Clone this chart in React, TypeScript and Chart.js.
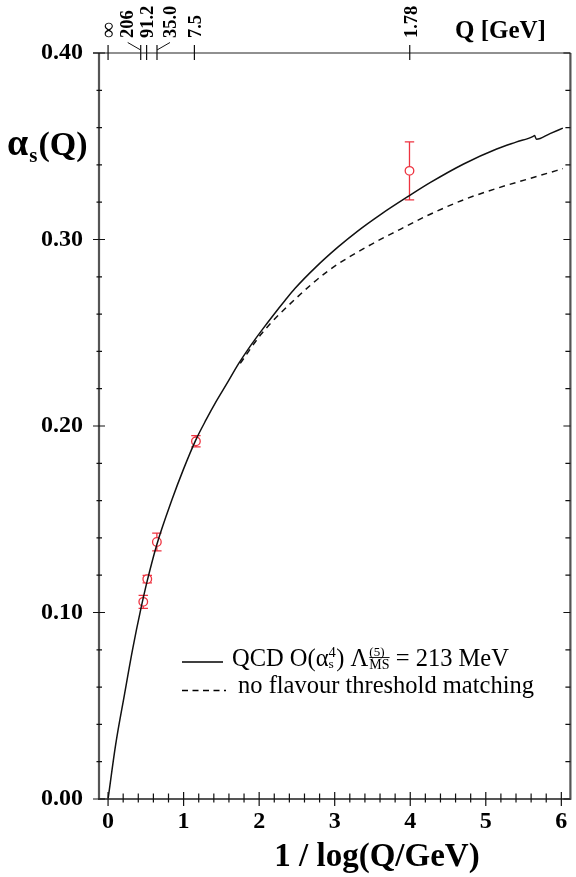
import React, { useEffect, useRef } from 'react';
import { Chart, registerables } from 'chart.js';

Chart.register(...registerables);

// ---- data ----
const xTicks = [0, 1, 2, 3, 4, 5, 6];
const yTicks = [0, 0.1, 0.2, 0.3, 0.4];
const topQLabels = ['∞', '206', '91.2', '35.0', '7.5', '1.78'];
const topQValues = [Infinity, 206, 91.2, 35.0, 7.5, 1.78];

const solidX = [0, 0.1, 0.217, 0.326, 0.436, 0.52, 0.646, 0.844, 1.0, 1.159, 1.3, 1.422, 1.58, 1.728, 1.88, 2.034, 2.2, 2.342, 2.473, 2.75, 3.042, 3.3, 3.611, 3.984, 4.268, 4.707, 5.144, 5.4, 5.627, 5.645, 5.67, 5.85, 6.02];
const solidY = [0, 0.029, 0.056, 0.0805, 0.1023, 0.1172, 0.1365, 0.1603, 0.177, 0.1923, 0.2035, 0.2125, 0.2232, 0.2334, 0.2427, 0.2513, 0.2601, 0.2673, 0.2737, 0.2852, 0.2959, 0.3044, 0.3135, 0.3234, 0.3306, 0.3405, 0.3485, 0.3522, 0.3553, 0.3558, 0.3537, 0.3568, 0.3597];

const dashedX = [1.75, 2.034, 2.473, 2.911, 3.436, 3.874, 4.225, 4.707, 5.144, 5.582, 6.021];
const dashedY = [0.2336, 0.2496, 0.2679, 0.2831, 0.2963, 0.3056, 0.3128, 0.3213, 0.3274, 0.3327, 0.338];

const pointX = [0.466, 0.519, 0.646, 1.163, 3.99];
const pointY = [0.1057, 0.1179, 0.1378, 0.1918, 0.3368];
const pointErr = [0.0035, 0.002, 0.0048, 0.003, 0.0155];

const legendSolid = 'QCD O(αs4) Λ(5)MS = 213 MeV';
const legendDashed = 'no flavour threshold matching';

// ---- styling ----
const SERIF = "'Liberation Serif', 'Times New Roman', serif";
const RED = '#ee3340';
const AXIS_GRAY = '#555';

const qToX = (q: number) => (isFinite(q) ? 1 / Math.log10(q) : 0);

const decorPlugin = {
  id: 'decor',
  beforeDatasetsDraw(chart: any) {
    const { ctx, scales } = chart;
    const x = scales.x, y = scales.y;
    ctx.save();
    ctx.strokeStyle = RED;
    ctx.lineWidth = 1.3;
    pointX.forEach((px, i) => {
      const cx = x.getPixelForValue(px);
      const y1 = y.getPixelForValue(pointY[i] - pointErr[i]);
      const y2 = y.getPixelForValue(pointY[i] + pointErr[i]);
      ctx.beginPath();
      ctx.moveTo(cx, y1); ctx.lineTo(cx, y2);
      ctx.moveTo(cx - 4.7, y1); ctx.lineTo(cx + 4.7, y1);
      ctx.moveTo(cx - 4.7, y2); ctx.lineTo(cx + 4.7, y2);
      ctx.stroke();
    });
    ctx.restore();
  },
  afterDraw(chart: any) {
    const { ctx, chartArea: a, scales } = chart;
    const x = scales.x, y = scales.y;
    ctx.save();
    // frame
    ctx.strokeStyle = AXIS_GRAY;
    ctx.lineWidth = 2.2;
    ctx.beginPath();
    ctx.moveTo(a.left, a.top); ctx.lineTo(a.left, a.bottom);
    ctx.moveTo(a.left - 1, a.bottom); ctx.lineTo(a.right + 1, a.bottom);
    ctx.moveTo(a.right, a.bottom); ctx.lineTo(a.right, a.top);
    ctx.stroke();
    ctx.strokeStyle = '#222';
    ctx.lineWidth = 1.1;
    ctx.beginPath();
    ctx.moveTo(a.left - 6, a.top); ctx.lineTo(a.right, a.top);
    ctx.stroke();

    // ticks
    ctx.strokeStyle = '#111';
    ctx.lineWidth = 1.2;
    ctx.beginPath();
    for (let i = 0; i <= 30; i++) {
      const v = i * 0.2;
      const px = x.getPixelForValue(v);
      if (i % 5 === 0) {
        ctx.moveTo(px, a.bottom + 7); ctx.lineTo(px, a.bottom - 7);
      } else {
        ctx.moveTo(px, a.bottom + 3.5); ctx.lineTo(px, a.bottom - 5.5);
      }
    }
    for (let i = 0; i <= 20; i++) {
      const v = i * 0.02;
      const py = y.getPixelForValue(v);
      if (i % 5 === 0) {
        ctx.moveTo(a.left - 6, py); ctx.lineTo(a.left + 6, py);
        ctx.moveTo(a.right - 7, py); ctx.lineTo(a.right, py);
      } else {
        ctx.moveTo(a.left - 2.5, py); ctx.lineTo(a.left + 3, py);
        ctx.moveTo(a.right - 5, py); ctx.lineTo(a.right, py);
      }
    }
    // top Q ticks
    topQValues.forEach((q) => {
      const px = x.getPixelForValue(qToX(q));
      ctx.moveTo(px, a.top - 8); ctx.lineTo(px, a.top + 7);
    });
    ctx.stroke();

    // top labels with leader lines
    const dx = [0, -13, 1, 13, 1, 1];
    ctx.fillStyle = '#000';
    ctx.lineWidth = 1;
    topQLabels.forEach((lab, i) => {
      const tx = x.getPixelForValue(qToX(topQValues[i]));
      const lx = tx + dx[i];
      if (Math.abs(dx[i]) > 5) {
        ctx.beginPath();
        ctx.moveTo(tx, a.top - 3);
        ctx.lineTo(lx, a.top - 10.5);
        ctx.stroke();
      }
      ctx.save();
      ctx.font = lab === '∞' ? `bold 22px ${SERIF}` : `bold 18.5px ${SERIF}`;
      ctx.translate(lx, a.top - 15);
      ctx.rotate(-Math.PI / 2);
      ctx.textAlign = 'left';
      ctx.textBaseline = 'middle';
      ctx.fillText(lab, 0, 1);
      ctx.restore();
    });
    ctx.font = `bold 25px ${SERIF}`;
    ctx.textAlign = 'left';
    ctx.textBaseline = 'alphabetic';
    ctx.fillText('Q [GeV]', 455, 38);

    // y title alpha_s(Q)
    let cx = 7;
    ctx.font = `bold 38px ${SERIF}`;
    ctx.fillText('α', cx, 155);
    cx += ctx.measureText('α').width + 1;
    ctx.font = `bold 21px ${SERIF}`;
    ctx.fillText('s', cx, 162);
    cx += ctx.measureText('s').width + 1;
    ctx.font = `bold 34px ${SERIF}`;
    ctx.fillText('(Q)', cx, 155);

    // x title
    ctx.font = `bold 33px ${SERIF}`;
    ctx.textAlign = 'center';
    ctx.fillText('1 / log(Q/GeV)', 377, 866);

    // legend
    ctx.textAlign = 'left';
    ctx.strokeStyle = '#000';
    ctx.lineWidth = 1.3;
    ctx.beginPath();
    ctx.moveTo(182, 662); ctx.lineTo(223, 662);
    ctx.stroke();
    ctx.setLineDash([6, 4.5]);
    ctx.beginPath();
    ctx.moveTo(182, 690.5); ctx.lineTo(226, 690.5);
    ctx.stroke();
    ctx.setLineDash([]);

    const reg = (s: number) => `${s}px ${SERIF}`;
    let lx = 232;
    const base = 666;
    const put = (t: string, size: number, yy: number) => {
      ctx.font = reg(size);
      ctx.fillText(t, lx, yy);
      return ctx.measureText(t).width;
    };
    lx += put('QCD O(α', 24.5, base);
    const w1 = put('4', 14.5, base - 9);
    const w2 = put('s', 13.5, base + 2);
    lx += Math.max(w1, w2) + 0.5;
    lx += put(') Λ', 24.5, base);
    lx += 1;
    const w3 = put('(5)', 13, base - 10);
    ctx.font = reg(14);
    const msW = ctx.measureText('MS').width;
    put('MS', 14, base + 2.5);
    ctx.lineWidth = 0.9;
    ctx.beginPath();
    ctx.moveTo(lx, base - 8.5); ctx.lineTo(lx + msW, base - 8.5);
    ctx.stroke();
    lx += Math.max(w3, msW);
    lx += put(' = 213 MeV', 24.5, base);

    ctx.font = reg(24.5);
    ctx.fillText(legendDashed, 238, 693);
    ctx.restore();
  },
};

export default function App() {
  const ref = useRef<HTMLCanvasElement>(null);
  useEffect(() => {
    const canvas = ref.current;
    if (!canvas) return;
    const chart = new Chart(canvas, {
      type: 'scatter',
      data: {
        datasets: [
          {
            label: legendSolid,
            data: solidX.map((v, i) => ({ x: v, y: solidY[i] })),
            showLine: true,
            borderColor: '#111',
            borderWidth: 1.5,
            pointRadius: 0,
            cubicInterpolationMode: 'monotone',
          } as any,
          {
            label: legendDashed,
            data: dashedX.map((v, i) => ({ x: v, y: dashedY[i] })),
            showLine: true,
            borderColor: '#111',
            borderWidth: 1.5,
            borderDash: [6, 5],
            pointRadius: 0,
            cubicInterpolationMode: 'monotone',
          } as any,
          {
            label: 'data',
            data: pointX.map((v, i) => ({ x: v, y: pointY[i] })),
            pointRadius: 4.3,
            pointBackgroundColor: '#fff',
            pointBorderColor: RED,
            pointBorderWidth: 1.3,
          } as any,
        ],
      },
      options: {
        animation: false,
        responsive: false,
        layout: { padding: { top: 53, right: 2, left: 0, bottom: 0 } },
        plugins: { legend: { display: false }, tooltip: { enabled: false } },
        scales: {
          x: {
            type: 'linear',
            min: -0.12,
            max: 6.12,
            grid: { display: false, drawTicks: false },
            border: { display: false },
            ticks: {
              font: { family: SERIF, size: 24, weight: 'bold' },
              color: '#000',
              padding: 8,
              maxRotation: 0,
              autoSkip: false,
              callback: (v: any) => String(v),
            },
            afterBuildTicks: (s: any) => {
              s.ticks = xTicks.map((v) => ({ value: v }));
            },
            afterFit: (s: any) => {
              s.height = 78;
            },
          },
          y: {
            type: 'linear',
            min: 0,
            max: 0.4,
            grid: { display: false, drawTicks: false },
            border: { display: false },
            ticks: {
              font: { family: SERIF, size: 24, weight: 'bold' },
              color: '#000',
              padding: 16,
              autoSkip: false,
              callback: (v: any) => Number(v).toFixed(2),
            },
            afterBuildTicks: (s: any) => {
              s.ticks = yTicks.map((v) => ({ value: v }));
            },
            afterFit: (s: any) => {
              s.width = 99;
            },
          },
        },
      } as any,
      plugins: [decorPlugin],
    });
    return () => chart.destroy();
  }, []);
  return (
    <div style={{ position: 'fixed', left: 0, top: 0, width: 576, height: 877, background: '#fff' }}>
      <canvas ref={ref} width={576} height={877} style={{ display: 'block' }} />
    </div>
  );
}
